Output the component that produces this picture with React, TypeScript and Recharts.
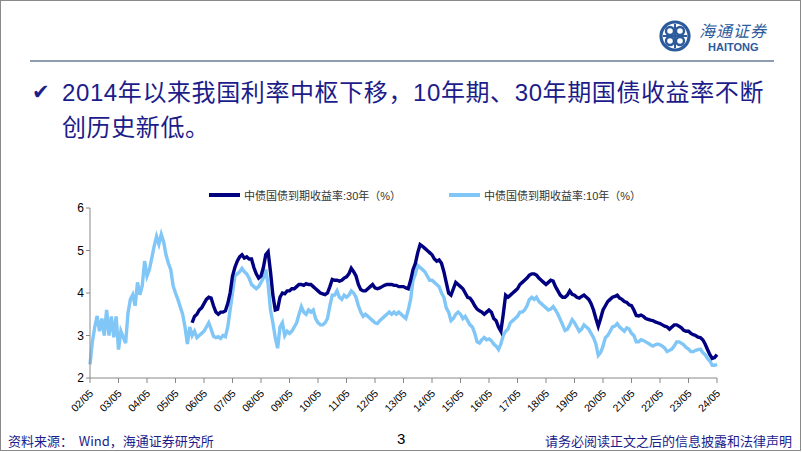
import React from 'react';
import { LineChart, Line, XAxis, YAxis, Legend } from 'recharts';

// tick labels: every May from 2002 to 2024 (yy/mm)
const tickLabels = [
  '02/05', '03/05', '04/05', '05/05', '06/05', '07/05', '08/05', '09/05', '10/05', '11/05', '12/05',
  '13/05', '14/05', '15/05', '16/05', '17/05', '18/05', '19/05', '20/05', '21/05', '22/05', '23/05', '24/05',
];

// 中债国债到期收益率:10年, monthly, 2002/05 - 2024/05
const yield10 = [
  2.32, 2.85, 3.2, 3.46, 3.1, 3.4, 3.0, 3.6, 3.0, 3.45, 2.96, 3.45,
  2.67, 3.1, 2.96, 2.82, 3.53, 3.85, 3.96, 3.7, 4.25, 3.96, 4.17, 4.75,
  4.4, 4.55, 4.82, 5.1, 5.33, 5.15, 5.38, 5.2, 4.9, 4.7, 4.55, 4.17,
  4.0, 3.85, 3.67, 3.5, 3.2, 2.8, 3.2, 3.0, 3.1, 2.95, 3.0, 3.05,
  3.1, 3.2, 3.3, 3.15, 2.98, 2.95, 2.97, 2.93, 3.0, 2.97, 3.2, 3.6,
  4.0, 4.4, 4.45, 4.5, 4.58, 4.5, 4.45, 4.35, 4.2, 4.15, 4.1, 4.15,
  4.25, 4.35, 4.55, 4.2, 3.6, 3.3, 2.95, 2.7, 3.2, 3.3, 3.0, 3.1,
  3.05, 3.1, 3.2, 3.3, 3.5, 3.68, 3.55, 3.5, 3.6, 3.55, 3.6, 3.4,
  3.3, 3.25, 3.25, 3.3, 3.4, 3.7, 3.95, 3.95, 4.05, 3.9, 3.85, 3.95,
  3.9, 3.95, 4.05, 4.0, 3.9, 3.7, 3.55, 3.45, 3.5, 3.45, 3.4, 3.35,
  3.3, 3.28, 3.35, 3.4, 3.45, 3.5, 3.55, 3.5, 3.55, 3.5, 3.55, 3.5,
  3.45, 3.4, 3.6, 3.85, 4.3, 4.45, 4.65, 4.6, 4.55, 4.5, 4.4, 4.3,
  4.3, 4.25, 4.2, 4.15, 4.0, 3.9, 3.65, 3.55, 3.35, 3.4, 3.5, 3.55,
  3.5, 3.4, 3.45, 3.35, 3.25, 3.2, 3.05, 2.85, 2.82, 2.9, 2.95, 2.9,
  2.92, 2.88, 2.8, 2.75, 2.67, 2.8, 3.0, 3.1, 3.15, 3.3, 3.35, 3.4,
  3.45, 3.55, 3.55, 3.6, 3.7, 3.85, 3.9, 3.85, 3.9, 3.8, 3.75, 3.7,
  3.65, 3.6, 3.62, 3.68, 3.6, 3.5, 3.38, 3.25, 3.12, 3.15, 3.25, 3.37,
  3.3, 3.2, 3.1, 3.15, 3.25, 3.2, 3.15, 3.05, 2.95, 2.8, 2.53, 2.6,
  2.75, 2.95, 3.0, 3.1, 3.2, 3.22, 3.28, 3.2, 3.15, 3.1, 3.18, 3.15,
  3.05, 3.0, 2.85, 2.85, 2.9, 2.88, 2.85, 2.82, 2.78, 2.75, 2.78, 2.8,
  2.78, 2.75, 2.7, 2.62, 2.65, 2.68, 2.75, 2.85, 2.85, 2.82, 2.78, 2.72,
  2.68, 2.62, 2.62, 2.65, 2.67, 2.68, 2.6, 2.55, 2.46, 2.4, 2.3, 2.3,
  2.32,
];

// 中债国债到期收益率:30年, monthly, 2005/12 - 2024/05
const yield30 = [
  3.3, 3.45, 3.5, 3.6, 3.65,
  3.75, 3.85, 3.9, 3.88, 3.7, 3.55, 3.5, 3.55, 3.55, 3.58, 3.75, 4.0,
  4.4, 4.6, 4.75, 4.85, 4.9, 4.82, 4.85, 4.8, 4.8, 4.6, 4.45, 4.35,
  4.4, 4.6, 4.9, 4.97, 4.5, 3.95, 3.6, 3.62, 3.9, 4.0, 3.98, 4.05,
  4.05, 4.1, 4.1, 4.15, 4.2, 4.2, 4.18, 4.22, 4.2, 4.2, 4.15, 4.1,
  4.05, 4.0, 3.98, 3.96, 4.0, 4.15, 4.32, 4.3, 4.3, 4.28, 4.3, 4.35,
  4.38, 4.45, 4.58, 4.5, 4.4, 4.2, 4.08, 4.05, 4.05, 4.1, 4.15, 4.2,
  4.12, 4.1, 4.12, 4.15, 4.18, 4.2, 4.2, 4.2, 4.18, 4.18, 4.15, 4.15,
  4.15, 4.12, 4.1, 4.3, 4.55, 4.7, 4.95, 5.14, 5.1, 5.05, 5.0, 4.95,
  4.9, 4.8, 4.75, 4.78, 4.7, 4.5, 4.25, 4.0, 3.95, 4.1, 4.25, 4.2,
  4.15, 4.1, 4.0, 3.9, 3.88, 3.8, 3.7, 3.62, 3.58, 3.55, 3.5, 3.55,
  3.6, 3.55, 3.4, 3.35, 3.2, 3.1, 3.5, 3.95, 3.9, 3.95, 4.0, 4.05,
  4.1, 4.2, 4.25, 4.3, 4.35, 4.42, 4.45, 4.45, 4.42, 4.35, 4.3, 4.25,
  4.2, 4.25, 4.3, 4.28, 4.15, 4.05, 3.95, 3.9, 3.9, 3.95, 4.05, 3.97,
  3.95, 3.9, 3.88, 3.92, 3.95, 3.9, 3.85, 3.75, 3.6, 3.4, 3.22, 3.4,
  3.6, 3.7, 3.8, 3.85, 3.9, 3.92, 3.95, 3.88, 3.85, 3.8, 3.78, 3.72,
  3.7, 3.6, 3.47, 3.46, 3.48, 3.45, 3.4, 3.38, 3.36, 3.35, 3.32, 3.3,
  3.28, 3.25, 3.22, 3.2, 3.15, 3.2, 3.25, 3.25, 3.22, 3.18, 3.12, 3.1,
  3.1, 3.05, 3.02, 3.0, 2.96, 2.95, 2.9, 2.8, 2.67, 2.55, 2.46, 2.48,
  2.55,
];

const yTicks = [2, 3, 4, 5, 6];

const offset30 = yield10.length - yield30.length;
const data = yield10.map((v, i) => ({
  m: i,
  y10: v,
  y30: i >= offset30 ? yield30[i - offset30] : null,
}));

const DARK = '#000080';
const LIGHT = '#80c6f6';
const NAVY = '#1c1c8a';
const cjk = '"Liberation Sans", Arial, "Noto Sans CJK SC", sans-serif';

function MonthTick(props: any) {
  const { x, y, payload } = props;
  const label = tickLabels[Math.round(payload.value / 12)];
  return (
    <g transform={`translate(${x + 4},${y + 9})`}>
      <text x={0} y={0} textAnchor="end" transform="rotate(-45)" fontSize={10.5} fill="#000" fontFamily={cjk}>
        {label}
      </text>
    </g>
  );
}

function ChartLegend() {
  const item = (left: number, color: string, text: string) => (
    <div style={{ position: 'absolute', left, top: 0, display: 'flex', alignItems: 'center' }}>
      <div style={{ width: 31, height: 4, background: color, marginRight: 4 }} />
      <span style={{ fontSize: 11, color: '#333', fontFamily: cjk, whiteSpace: 'nowrap' }}>{text}</span>
    </div>
  );
  return (
    <div style={{ position: 'relative', height: 16 }}>
      {item(209, DARK, '中债国债到期收益率:30年（%）')}
      {item(449, LIGHT, '中债国债到期收益率:10年（%）')}
    </div>
  );
}

function Logo() {
  return (
    <div style={{ position: 'absolute', left: 658, top: 19, width: 120, height: 36 }}>
      <svg width={34} height={34} style={{ position: 'absolute', left: 0, top: 0 }}>
        <circle cx={17} cy={17} r={14} fill="none" stroke="#2b5b9c" strokeWidth={3.2} />
        <circle cx={12} cy={12} r={4} fill="none" stroke="#2b5b9c" strokeWidth={2.4} />
        <circle cx={22} cy={12} r={4} fill="none" stroke="#2b5b9c" strokeWidth={2.4} />
        <circle cx={12} cy={22} r={4} fill="none" stroke="#2b5b9c" strokeWidth={2.4} />
        <circle cx={22} cy={22} r={4} fill="none" stroke="#2b5b9c" strokeWidth={2.4} />
        <line x1={17} y1={5} x2={17} y2={29} stroke="#2b5b9c" strokeWidth={2} />
        <line x1={5} y1={17} x2={29} y2={17} stroke="#2b5b9c" strokeWidth={2} />
      </svg>
      <div style={{ position: 'absolute', left: 41, top: 2, fontSize: 16, fontStyle: 'italic', color: '#2b5b9c', fontFamily: '"Noto Sans CJK SC", sans-serif', letterSpacing: 1, lineHeight: '18px', whiteSpace: 'nowrap' }}>
        海通证券
      </div>
      <div style={{ position: 'absolute', left: 50, top: 22, fontSize: 11, fontWeight: 'bold', color: '#2b5b9c', fontFamily: '"Liberation Sans", Arial, sans-serif', lineHeight: '12px' }}>
        HAITONG
      </div>
    </div>
  );
}

export default function App() {
  return (
    <div style={{ position: 'fixed', left: 0, top: 0, width: 802, height: 452, background: '#fff', overflow: 'hidden' }}>
      <div style={{ position: 'absolute', left: 0, top: 0, width: 801, height: 451, boxSizing: 'border-box', border: '1px solid #8a8a8a' }} />
      <Logo />
      <div style={{ position: 'absolute', left: 30, top: 60, width: 744, height: 2, background: '#8e9cb0' }} />
      <div style={{ position: 'absolute', left: 32, top: 75, color: NAVY, fontSize: 21, fontFamily: '"DejaVu Sans", sans-serif', lineHeight: '34px' }}>✔</div>
      <div style={{ position: 'absolute', left: 62, top: 75, width: 730, color: NAVY, fontSize: 24, letterSpacing: 0.6, fontFamily: cjk, lineHeight: '35px', whiteSpace: 'nowrap' }}>
        <div>2014年以来我国利率中枢下移，10年期、30年期国债收益率不断</div>
        <div>创历史新低。</div>
      </div>

      <div style={{ position: 'absolute', left: 0, top: 0 }}>
        <LineChart width={802} height={452} data={data} margin={{ top: 192, right: 85, bottom: 34, left: 60 }}>
          <XAxis
            type="number"
            dataKey="m"
            domain={[0, yield10.length - 1]}
            ticks={tickLabels.map((_, k) => k * 12)}
            tick={<MonthTick />}
            interval={0}
            height={40}
            stroke="#888"
            tickSize={5}
          />
          <YAxis
            domain={[2, 6]}
            ticks={yTicks}
            width={30}
            stroke="#888"
            tickSize={4}
            tick={{ fill: '#000', fontSize: 12, fontFamily: cjk }}
          />
          <Legend verticalAlign="top" content={<ChartLegend />} wrapperStyle={{ position: 'absolute', top: 187, left: 0, width: 802 }} />
          <Line type="linear" dataKey="y10" stroke={LIGHT} strokeWidth={3.4} dot={false} isAnimationActive={false} connectNulls={false} />
          <Line type="linear" dataKey="y30" stroke={DARK} strokeWidth={3.4} dot={false} isAnimationActive={false} connectNulls={false} />
        </LineChart>
      </div>

      <div style={{ position: 'absolute', left: 8, top: 431, fontSize: 13, color: NAVY, fontFamily: '"Noto Sans CJK SC", sans-serif', whiteSpace: 'nowrap' }}>
        资料来源：&nbsp; Wind，海通证券研究所
      </div>
      <div style={{ position: 'absolute', left: 397, top: 430, fontSize: 15, color: '#000', fontFamily: cjk }}>3</div>
      <div style={{ position: 'absolute', right: 10, top: 431, fontSize: 13, color: NAVY, fontFamily: '"Noto Sans CJK SC", sans-serif', whiteSpace: 'nowrap' }}>
        请务必阅读正文之后的信息披露和法律声明
      </div>
    </div>
  );
}
